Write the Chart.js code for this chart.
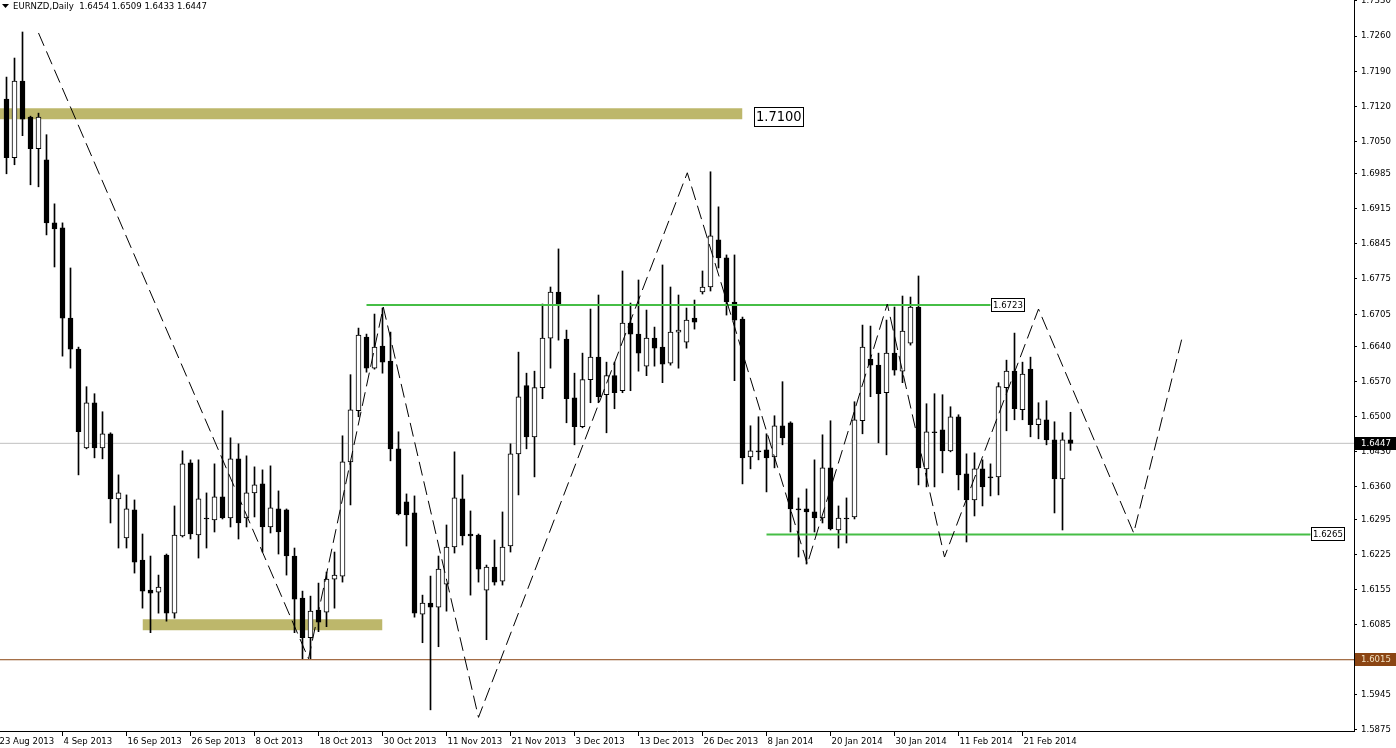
<!DOCTYPE html>
<html><head><meta charset="utf-8">
<script src="https://cdn.jsdelivr.net/npm/chart.js@4.4.0/dist/chart.umd.min.js"></script>
<style>html,body{margin:0;padding:0;background:#fff;overflow:hidden}canvas{display:block}</style>
</head><body>
<canvas id="c" width="1396" height="748"></canvas>
<script>
const symbolTitle = 'EURNZD,Daily';
const lastQuote = ['1.6454', '1.6509', '1.6433', '1.6447'];

const dates = [
'2013-08-23','2013-08-26','2013-08-27','2013-08-28','2013-08-29','2013-08-30',
'2013-09-02','2013-09-03','2013-09-04','2013-09-05','2013-09-06','2013-09-09','2013-09-10','2013-09-11','2013-09-12','2013-09-13',
'2013-09-16','2013-09-17','2013-09-18','2013-09-19','2013-09-20','2013-09-23','2013-09-24','2013-09-25','2013-09-26','2013-09-27','2013-09-30',
'2013-10-01','2013-10-02','2013-10-03','2013-10-04','2013-10-07','2013-10-08','2013-10-09','2013-10-10','2013-10-11','2013-10-14','2013-10-15',
'2013-10-16','2013-10-17','2013-10-18','2013-10-21','2013-10-22','2013-10-23','2013-10-24','2013-10-25','2013-10-28','2013-10-29','2013-10-30','2013-10-31',
'2013-11-01','2013-11-04','2013-11-05','2013-11-06','2013-11-07','2013-11-08','2013-11-11','2013-11-12','2013-11-13','2013-11-14','2013-11-15',
'2013-11-18','2013-11-19','2013-11-20','2013-11-21','2013-11-22','2013-11-25','2013-11-26','2013-11-27','2013-11-28','2013-11-29',
'2013-12-02','2013-12-03','2013-12-04','2013-12-05','2013-12-06','2013-12-09','2013-12-10','2013-12-11','2013-12-12','2013-12-13',
'2013-12-16','2013-12-17','2013-12-18','2013-12-19','2013-12-20','2013-12-23','2013-12-24','2013-12-26','2013-12-27','2013-12-30','2013-12-31',
'2014-01-02','2014-01-03','2014-01-06','2014-01-07','2014-01-08','2014-01-09','2014-01-10','2014-01-13','2014-01-14','2014-01-15','2014-01-16','2014-01-17',
'2014-01-20','2014-01-21','2014-01-22','2014-01-23','2014-01-24','2014-01-27','2014-01-28','2014-01-29','2014-01-30','2014-01-31',
'2014-02-03','2014-02-04','2014-02-05','2014-02-06','2014-02-07','2014-02-10','2014-02-11','2014-02-12','2014-02-13','2014-02-14',
'2014-02-17','2014-02-18','2014-02-19','2014-02-20','2014-02-21','2014-02-24','2014-02-25','2014-02-26','2014-02-27','2014-02-28','2014-03-03'
];

const open = [null,
1.7134,1.7017,1.7170,1.7098,1.7035,1.7013,1.6887,1.6877,1.6697,1.6635,
1.6438,1.6528,1.6438,1.6466,1.6336,1.6258,1.6314,1.6214,1.6154,1.6150,
1.6224,1.6108,1.6262,1.6408,1.6264,1.6298,1.6294,1.6340,1.6298,1.6416,
1.6298,1.6348,1.6366,1.6280,1.6316,1.6314,1.6222,1.6138,1.6059,1.6114,
1.6110,1.6176,1.6182,1.6410,1.6512,1.6659,1.6597,1.6641,1.6611,1.6436,
1.6330,1.6308,1.6106,1.6128,1.6120,1.6166,1.6240,1.6336,1.6266,1.6264,
1.6154,1.6200,1.6172,1.6242,1.6426,1.6562,1.6460,1.6558,1.6657,1.6749,
1.6655,1.6538,1.6480,1.6574,1.6619,1.6544,1.6582,1.6552,1.6687,1.6665,
1.6601,1.6657,1.6639,1.6607,1.6669,1.6649,1.6697,1.6749,1.6759,1.6853,
1.6817,1.6729,1.6695,1.6420,1.6432,1.6434,1.6420,1.6482,1.6488,1.6316,
1.6316,1.6310,1.6298,1.6398,1.6274,1.6298,1.6300,1.6492,1.6615,1.6603,
1.6548,1.6627,1.6591,1.6647,1.6719,1.6396,1.6470,1.6474,1.6432,1.6500,
1.6386,1.6334,1.6396,1.6380,1.6380,1.6558,1.6591,1.6514,1.6595,1.6484,
1.6494,1.6454,1.6376,1.6454];

const high = [null,
1.7178,1.7216,1.7268,1.7100,1.7106,1.7063,1.6925,1.6887,1.6797,1.6639,
1.6560,1.6546,1.6510,1.6468,1.6384,1.6344,1.6334,1.6266,1.6222,1.6184,
1.6226,1.6322,1.6432,1.6414,1.6414,1.6348,1.6406,1.6512,1.6458,1.6446,
1.6422,1.6400,1.6394,1.6402,1.6352,1.6316,1.6238,1.6152,1.6142,1.6168,
1.6190,1.6230,1.6462,1.6584,1.6677,1.6665,1.6705,1.6717,1.6669,1.6470,
1.6346,1.6342,1.6144,1.6182,1.6222,1.6284,1.6430,1.6384,1.6312,1.6266,
1.6204,1.6254,1.6310,1.6446,1.6629,1.6587,1.6591,1.6725,1.6759,1.6835,
1.6673,1.6587,1.6627,1.6715,1.6743,1.6609,1.6609,1.6791,1.6727,1.6773,
1.6713,1.6679,1.6803,1.6759,1.6743,1.6717,1.6733,1.6791,1.6989,1.6919,
1.6823,1.6823,1.6699,1.6482,1.6500,1.6466,1.6502,1.6570,1.6490,1.6338,
1.6356,1.6414,1.6464,1.6492,1.6322,1.6338,1.6530,1.6683,1.6681,1.6627,
1.6693,1.6719,1.6741,1.6739,1.6781,1.6526,1.6546,1.6544,1.6520,1.6504,
1.6426,1.6428,1.6414,1.6406,1.6568,1.6613,1.6667,1.6609,1.6619,1.6528,
1.6532,1.6490,1.6468,1.6509];

const low = [null,
1.6985,1.7003,1.7061,1.6963,1.6959,1.6863,1.6799,1.6621,1.6597,1.6384,
1.6436,1.6418,1.6416,1.6288,1.6238,1.6238,1.6188,1.6118,1.6069,1.6108,
1.6092,1.6098,1.6260,1.6256,1.6218,1.6238,1.6270,1.6296,1.6280,1.6256,
1.6280,1.6300,1.6230,1.6268,1.6226,1.6184,1.6069,1.6017,1.6017,1.6071,
1.6081,1.6118,1.6170,1.6324,1.6500,1.6589,1.6595,1.6587,1.6412,1.6304,
1.6242,1.6100,1.6049,1.5915,1.6041,1.6112,1.6228,1.6244,1.6144,1.6170,
1.6055,1.6164,1.6164,1.6230,1.6344,1.6436,1.6380,1.6536,1.6597,1.6653,
1.6488,1.6444,1.6478,1.6528,1.6528,1.6468,1.6516,1.6548,1.6552,1.6591,
1.6582,1.6601,1.6568,1.6603,1.6597,1.6637,1.6675,1.6745,1.6751,1.6797,
1.6703,1.6572,1.6366,1.6396,1.6414,1.6350,1.6398,1.6444,1.6270,1.6220,
1.6206,1.6270,1.6288,1.6274,1.6238,1.6248,1.6296,1.6466,1.6540,1.6448,
1.6424,1.6583,1.6568,1.6643,1.6364,1.6360,1.6360,1.6388,1.6430,1.6354,
1.6250,1.6302,1.6322,1.6342,1.6344,1.6472,1.6494,1.6494,1.6460,1.6456,
1.6444,1.6308,1.6274,1.6433];

const close = [null,
1.7017,1.7170,1.7094,1.7035,1.7098,1.6887,1.6875,1.6697,1.6635,1.6470,
1.6528,1.6438,1.6466,1.6336,1.6348,1.6316,1.6210,1.6152,1.6148,1.6160,
1.6108,1.6264,1.6406,1.6266,1.6336,1.6296,1.6340,1.6298,1.6416,1.6288,
1.6348,1.6364,1.6280,1.6318,1.6270,1.6222,1.6136,1.6059,1.6112,1.6090,
1.6176,1.6184,1.6410,1.6514,1.6663,1.6597,1.6639,1.6609,1.6436,1.6306,
1.6304,1.6108,1.6128,1.6120,1.6196,1.6240,1.6338,1.6262,1.6262,1.6196,
1.6200,1.6170,1.6240,1.6426,1.6540,1.6460,1.6558,1.6657,1.6749,1.6725,
1.6536,1.6480,1.6574,1.6619,1.6540,1.6582,1.6548,1.6687,1.6665,1.6627,
1.6657,1.6637,1.6605,1.6669,1.6673,1.6693,1.6689,1.6759,1.6861,1.6817,
1.6729,1.6693,1.6418,1.6432,1.6430,1.6418,1.6482,1.6458,1.6316,1.6314,
1.6310,1.6298,1.6398,1.6276,1.6298,1.6296,1.6494,1.6639,1.6603,1.6546,
1.6627,1.6593,1.6671,1.6719,1.6398,1.6470,1.6468,1.6432,1.6500,1.6384,
1.6334,1.6396,1.6360,1.6378,1.6560,1.6591,1.6516,1.6585,1.6484,1.6496,
1.6454,1.6376,1.6454,1.6447];

const xTickIndex = [0, 8, 16, 24, 32, 40, 48, 56, 64, 72, 80, 88, 96, 104, 112, 120, 128];
const xTickLabels = ['23 Aug 2013','4 Sep 2013','16 Sep 2013','26 Sep 2013','8 Oct 2013','18 Oct 2013','30 Oct 2013',
  '11 Nov 2013','21 Nov 2013','3 Dec 2013','13 Dec 2013','26 Dec 2013','8 Jan 2014','20 Jan 2014','30 Jan 2014','11 Feb 2014','21 Feb 2014'];
const yTickLabels = ['1.7330','1.7260','1.7190','1.7120','1.7050','1.6985','1.6915','1.6845','1.6775','1.6705','1.6640',
  '1.6570','1.6500','1.6430','1.6360','1.6295','1.6225','1.6155','1.6085','1.6015','1.5945','1.5875'];

// hand-drawn zigzag projection (dashed)
const zigzagIndex = [5, 38.75, 48.1, 60, 86.1, 101.1, 111.1, 118.25, 130, 141.9, 148];
const zigzagPrice = [1.7266, 1.6017, 1.6719, 1.5900, 1.6987, 1.6206, 1.6725, 1.6220, 1.6715, 1.6268, 1.6661];

// green horizontal levels
const levelFrom = [46, 96];
const levelTo = [124, 164];
const levelPrice = [1.6723, 1.6265];
const levelText = ['1.6723', '1.6265'];

// khaki zones
const zoneFrom = [-2, 18];
const zoneTo = [93, 48];
const zoneLow = [1.7094, 1.6074];
const zoneHigh = [1.7116, 1.6096];
const zoneText = ['1.7100'];

// horizontal price lines
const bidPrice = 1.6447;
const brownLinePrice = 1.6015;

const FONT = '"DejaVu Sans Condensed", "DejaVu Sans", sans-serif';
Chart.defaults.font.family = FONT;
Chart.defaults.color = '#000';

const candleIdx = dates.map((d, i) => i).filter(i => open[i] !== null);
const wickData = candleIdx.map(i => ({x: i, y: [low[i], high[i]]}));
const bodyData = candleIdx.map(i => ({x: i, y: [open[i], close[i]]}));
const bodyColors = candleIdx.map(i => close[i] > open[i] ? '#ffffff' : '#000000');

const datasets = [];
zoneFrom.forEach((f, k) => {
  datasets.push({type: 'line', data: [{x: f, y: zoneHigh[k]}, {x: zoneTo[k], y: zoneHigh[k]}],
    borderWidth: 0, pointRadius: 0, fill: false, order: 20});
  datasets.push({type: 'line', data: [{x: f, y: zoneLow[k]}, {x: zoneTo[k], y: zoneLow[k]}],
    borderWidth: 0, pointRadius: 0, fill: '-1', backgroundColor: 'rgb(189,183,107)', order: 19});
});
datasets.push({type: 'line', data: [{x: -5, y: bidPrice}, {x: 200, y: bidPrice}], borderColor: '#c0c0c0', borderWidth: 1, pointRadius: 0, order: 15});
datasets.push({type: 'line', data: [{x: -5, y: brownLinePrice}, {x: 200, y: brownLinePrice}], borderColor: 'rgb(139,69,19)', borderWidth: 1, pointRadius: 0, order: 15});
datasets.push({type: 'bar', data: wickData, backgroundColor: '#000', borderWidth: 0, barThickness: 1, grouped: false, order: 10});
datasets.push({type: 'bar', data: bodyData, backgroundColor: bodyColors, borderColor: '#000', borderWidth: 1,
  borderSkipped: false, barThickness: 5, grouped: false, order: 9});
levelPrice.forEach((p, k) => {
  datasets.push({type: 'line', data: [{x: levelFrom[k], y: p}, {x: levelTo[k], y: p}],
    borderColor: 'rgb(70,190,70)', borderWidth: 2, pointRadius: 0, order: 3});
});
datasets.push({type: 'line', data: zigzagIndex.map((x, k) => ({x, y: zigzagPrice[k]})),
  borderColor: '#000', borderWidth: 1, borderDash: [14, 6], pointRadius: 0, tension: 0, order: 1});

function boxLabel(ctx, text, xLeft, yc, size, padX, h, bg, fg, border) {
  ctx.font = size + 'px ' + FONT;
  const w = Math.round(ctx.measureText(text).width + 2 * padX);
  const top = Math.round(yc - h / 2);
  ctx.fillStyle = bg;
  ctx.fillRect(xLeft, top, w, h);
  if (border) { ctx.strokeStyle = border; ctx.lineWidth = 1; ctx.strokeRect(xLeft + 0.5, top + 0.5, w - 1, h - 1); }
  ctx.fillStyle = fg; ctx.textBaseline = 'middle'; ctx.textAlign = 'left';
  ctx.fillText(text, xLeft + padX, top + h / 2 + 0.5);
}

const overlay = {
  id: 'overlay',
  afterDraw(chart) {
    const {ctx, scales: {x, y}} = chart;
    ctx.save();
    // title
    ctx.fillStyle = '#000';
    ctx.beginPath(); ctx.moveTo(2, 4); ctx.lineTo(9, 4); ctx.lineTo(5.5, 8); ctx.closePath(); ctx.fill();
    ctx.font = '9.5px ' + FONT; ctx.textBaseline = 'middle'; ctx.textAlign = 'left';
    ctx.fillText(symbolTitle + '  ' + lastQuote.join(' '), 13, 6.5);
    // level labels
    levelPrice.forEach((p, k) => {
      const xe = x.getPixelForValue(levelTo[k]);
      const yc = y.getPixelForValue(p);
      boxLabel(ctx, levelText[k], Math.floor(xe) + 1, yc, 9.5, 2, 14, '#fff', '#000', '#000');
    });
    // zone label
    {
      const xe = x.getPixelForValue(zoneTo[0]);
      const yc = y.getPixelForValue(1.7100) + 1;
      boxLabel(ctx, zoneText[0], Math.round(xe) + 11, yc, 14.5, 2, 20, '#fff', '#000', '#000');
    }
    // axis price boxes
    const ra = y.left + 1;
    boxLabel(ctx, bidPrice.toFixed(4), ra, y.getPixelForValue(bidPrice), 9.5, 6, 13, '#000', '#fff', null);
    boxLabel(ctx, brownLinePrice.toFixed(4), ra, y.getPixelForValue(brownLinePrice), 9.5, 6, 13, 'rgb(139,69,19)', '#f0e0c0', null);
    ctx.restore();
  }
};

new Chart(document.getElementById('c'), {
  type: 'bar',
  data: {datasets},
  plugins: [overlay],
  options: {
    responsive: false, animation: false, devicePixelRatio: 1,
    layout: {padding: 0},
    plugins: {legend: {display: false}, tooltip: {enabled: false}, title: {display: false}},
    scales: {
      x: {
        type: 'linear', min: 0.1875, max: 169.4375, offset: false, bounds: 'data',
        grid: {drawOnChartArea: false, drawTicks: true, tickLength: 5, color: '#000', offset: false},
        border: {display: true, color: '#000', width: 1},
        ticks: {autoSkip: false, maxRotation: 0, minRotation: 0, align: 'start', labelOffset: 1, padding: 0,
          color: '#000', font: {size: 9.5}, callback: (v, i) => xTickLabels[i]},
        afterBuildTicks: s => { s.ticks = xTickIndex.map(v => ({value: v})); },
        afterFit: s => { s.height = 17; s.paddingLeft = 0; s.paddingRight = 0; }
      },
      y: {
        type: 'linear', position: 'right', min: 1.587278, max: 1.733186, bounds: 'data',
        grid: {drawOnChartArea: false, drawTicks: true, tickLength: 3, color: '#000'},
        border: {display: true, color: '#000', width: 1},
        ticks: {padding: 4, color: '#000', font: {size: 9.5}, callback: (v, i) => yTickLabels[i]},
        afterBuildTicks: s => { s.ticks = yTickLabels.map(t => ({value: parseFloat(t)})); },
        afterFit: s => { s.width = 42; s.paddingTop = 0; s.paddingBottom = 0; }
      }
    }
  }
});
</script>
</body></html>
